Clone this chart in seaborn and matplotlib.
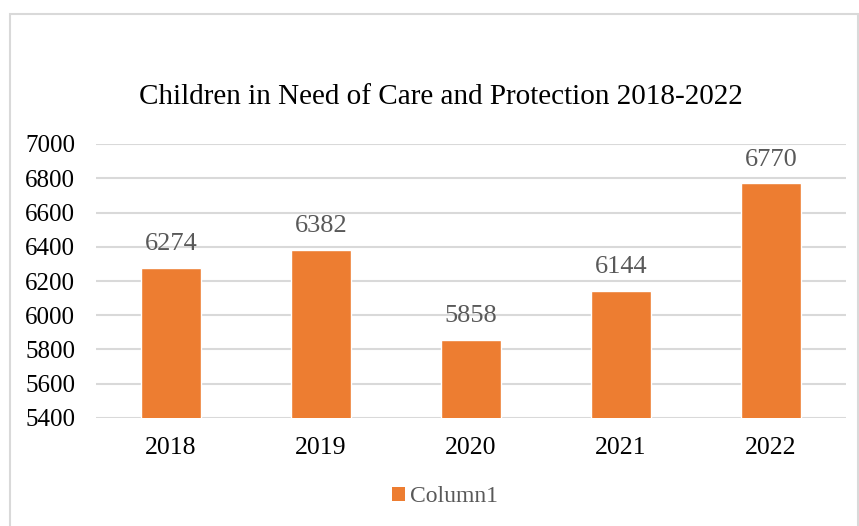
import matplotlib
matplotlib.use("Agg")
import matplotlib.pyplot as plt
import seaborn as sns
import pandas as pd
from matplotlib.patches import Rectangle, Patch

years = ["2018", "2019", "2020", "2021", "2022"]
values = [6274, 6382, 5858, 6144, 6770]
series_name = "Column1"
title = "Children in Need of Care and Protection 2018-2022"
yticks = [5400, 5600, 5800, 6000, 6200, 6400, 6600, 6800, 7000]

sns.set_theme(style="white")
plt.rcParams["font.family"] = ["Liberation Serif", "DejaVu Serif"]

W, H = 859, 526
fig = plt.figure(figsize=(W / 100, H / 100), dpi=100)
fig.patch.set_facecolor("white")

# chart border
fig.patches.append(Rectangle((10 / W, 1 - 530 / H), 848 / W, 516 / H,
                             transform=fig.transFigure, fill=False,
                             edgecolor="#D9D9D9", linewidth=1.5, zorder=0))

ax = fig.add_axes([96 / W, 1 - 418 / H, 750 / W, 274 / H])
df = pd.DataFrame({"year": years, "value": values})
orange = "#ED7D31"
sns.barplot(data=df, x="year", y="value", color=orange, saturation=1,
            width=0.4, ax=ax, zorder=3)

ax.set_ylim(5400, 7000)
ax.set_yticks(yticks)
ax.set_yticklabels([str(t) for t in yticks], fontsize=18, color="#000000")
ax.set_xlim(-0.5, len(years) - 0.5)
ax.tick_params(axis="x", labelsize=18.5, colors="#000000", pad=14, length=0)
ax.tick_params(axis="y", pad=15, length=0)
ax.set_xlabel("")
ax.set_ylabel("")
ax.grid(axis="y", color="#D9D9D9", linewidth=1.5, zorder=0)
ax.grid(axis="x", visible=False)
for s in ax.spines.values():
    s.set_visible(False)
ax.set_axisbelow(True)

for i, v in enumerate(values):
    ax.text(i, v + 75, str(v), ha="center", va="bottom", fontsize=19,
            color="#595959", zorder=4)

fig.text(441 / W, 1 - 97 / H, title, ha="center", va="center",
         fontsize=21, color="#000000")

fig.legend(handles=[Patch(facecolor=orange, edgecolor="none", label=series_name)],
           loc="center", bbox_to_anchor=(445 / W, 1 - 497 / H), frameon=False,
           fontsize=17, handlelength=0.55, handleheight=0.55, handletextpad=0.25,
           labelcolor="#595959")

fig.savefig("out.png", dpi=100, facecolor="white")
